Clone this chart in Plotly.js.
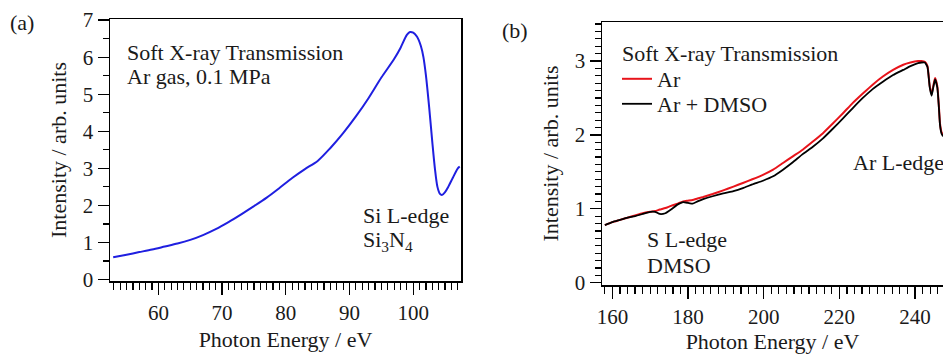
<!DOCTYPE html>
<html>
<head>
<meta charset="utf-8">
<script src="https://cdn.plot.ly/plotly-3.0.1.min.js"></script>
<style>html,body{margin:0;padding:0;background:#fff;}#chart{width:943px;height:355px;}</style>
</head>
<body>
<div id="chart"></div>
<script>
// Panel (a): Si3N4 window transmission, Ar gas 0.1 MPa
const energyA = [52.9, 55, 57, 59, 61, 63, 65, 67, 69, 71, 73, 75, 77, 79, 81, 83, 85, 87, 89, 91, 93, 95, 97, 98, 99, 99.5, 100, 100.6, 101.2, 101.6, 102.0, 102.5, 103.0, 103.4, 103.8, 104.2, 104.5, 105.0, 105.5, 106.2, 107.0, 107.3];
const intensityA = [0.60, 0.67, 0.74, 0.81, 0.89, 0.97, 1.07, 1.20, 1.36, 1.55, 1.76, 1.98, 2.21, 2.47, 2.74, 2.98, 3.20, 3.55, 3.95, 4.40, 4.90, 5.45, 5.95, 6.25, 6.60, 6.68, 6.66, 6.55, 6.30, 6.00, 5.50, 4.65, 3.70, 3.00, 2.50, 2.31, 2.28, 2.36, 2.50, 2.74, 3.00, 3.05];

// Panel (b): Ar vs Ar + DMSO
const energyB = [158.0, 160.0, 162.0, 164.0, 166.0, 168.0, 170.0, 171.3, 172.5, 174.0, 175.5, 177.3, 178.7, 180.0, 181.2, 182.5, 184.0, 186.5, 189.3, 192.0, 194.5, 197.0, 199.8, 202.5, 205.1, 207.7, 210.3, 213.0, 215.6, 218.2, 220.9, 223.5, 226.2, 228.8, 231.5, 234.2, 236.9, 238.8, 240.8, 241.7, 242.6, 243.3, 243.9, 244.4, 244.9, 245.3, 245.9, 246.3, 246.6, 247.0, 247.4];
const intensityAr = [0.78, 0.82, 0.85, 0.88, 0.91, 0.94, 0.96, 0.97, 0.99, 1.01, 1.04, 1.07, 1.10, 1.11, 1.12, 1.14, 1.16, 1.20, 1.25, 1.30, 1.35, 1.40, 1.46, 1.53, 1.62, 1.71, 1.80, 1.91, 2.02, 2.15, 2.29, 2.43, 2.56, 2.68, 2.79, 2.88, 2.95, 2.98, 3.00, 3.00, 2.99, 2.93, 2.66, 2.55, 2.68, 2.77, 2.66, 2.40, 2.16, 2.04, 2.00];
const intensityArDMSO = [0.78, 0.82, 0.85, 0.88, 0.90, 0.93, 0.96, 0.96, 0.93, 0.94, 0.99, 1.06, 1.09, 1.08, 1.07, 1.10, 1.13, 1.17, 1.21, 1.24, 1.28, 1.33, 1.38, 1.44, 1.53, 1.63, 1.74, 1.84, 1.95, 2.08, 2.22, 2.36, 2.50, 2.62, 2.72, 2.81, 2.88, 2.93, 2.97, 2.98, 2.98, 2.92, 2.64, 2.53, 2.66, 2.75, 2.64, 2.38, 2.14, 2.02, 1.98];

const xTicksA = [60, 70, 80, 90, 100];
const yTicksA = [0, 1, 2, 3, 4, 5, 6, 7];
const xTicksB = [160, 180, 200, 220, 240];
const yTicksB = [0, 1, 2, 3];

const W = 943, H = 355;
const px = v => v / W;
const py = v => 1 - v / H;

const serif = "Liberation Serif";
const txt = '#1a1a1a';

const traces = [
  {x: energyA, y: intensityA, xaxis: 'x', yaxis: 'y', mode: 'lines', type: 'scatter',
   line: {color: '#1f1fe0', width: 2, shape: 'spline', smoothing: 0.8}, showlegend: false, name: 'Ar gas'},
  {x: energyB, y: intensityAr, xaxis: 'x2', yaxis: 'y2', mode: 'lines', type: 'scatter',
   line: {color: '#e8141b', width: 2, shape: 'spline', smoothing: 0.4}, name: 'Ar', legend: 'legend'},
  {x: energyB, y: intensityArDMSO, xaxis: 'x2', yaxis: 'y2', mode: 'lines', type: 'scatter',
   line: {color: '#000000', width: 1.8, shape: 'spline', smoothing: 0.4}, name: 'Ar + DMSO', legend: 'legend2'}
];

const axBase = {
  showgrid: false, zeroline: false, showline: true, linecolor: '#000', linewidth: 1.5,
  ticks: 'outside', tickcolor: '#000', tickwidth: 1.3,
  tickfont: {family: serif, size: 21, color: txt},
  fixedrange: true
};

const legBase = {
  xanchor: 'left', yanchor: 'middle',
  bgcolor: 'rgba(0,0,0,0)', borderwidth: 0,
  font: {family: serif, size: 22, color: txt},
  itemwidth: 30
};

const layout = {
  width: W, height: H,
  margin: {l: 0, r: 0, t: 0, b: 0},
  paper_bgcolor: '#fff', plot_bgcolor: '#fff',
  font: {family: serif, color: txt},
  xaxis: Object.assign({}, axBase, {
    domain: [px(110), px(461)], range: [52.4, 107.5], anchor: 'y',
    tickvals: xTicksA, ticklen: 12, mirror: true,
    minor: {dtick: 1, tick0: 50, ticklen: 7, ticks: 'outside', tickcolor: '#000', tickwidth: 1.2},
    title: {text: 'Photon Energy / eV', font: {family: serif, size: 22, color: txt}, standoff: 8}
  }),
  yaxis: Object.assign({}, axBase, {
    domain: [py(281), py(19)], range: [-0.04, 7.03], anchor: 'x',
    tickvals: yTicksA, ticklen: 11, mirror: true,
    minor: {dtick: 0.5, tick0: 0, ticklen: 6, ticks: 'outside', tickcolor: '#000', tickwidth: 1.2},
    title: {text: 'Intensity / arb. units', font: {family: serif, size: 22, color: txt}, standoff: 10}
  }),
  xaxis2: Object.assign({}, axBase, {
    domain: [px(602), 1], range: [157.25, 247.4], anchor: 'y2',
    tickvals: xTicksB, ticklen: 12, mirror: true,
    minor: {dtick: 2, tick0: 150, ticklen: 7, ticks: 'outside', tickcolor: '#000', tickwidth: 1.2},
    title: {text: 'Photon Energy / eV', font: {family: serif, size: 22, color: txt}, standoff: 6}
  }),
  yaxis2: Object.assign({}, axBase, {
    domain: [py(285), py(22)], range: [-0.031, 3.528], anchor: 'x2',
    tickvals: yTicksB, ticklen: 11, mirror: false,
    minor: {dtick: 0.1, tick0: 0, ticklen: 6, ticks: 'outside', tickcolor: '#000', tickwidth: 1.2},
    title: {text: 'Intensity / arb. units', font: {family: serif, size: 22, color: txt}, standoff: 10}
  }),
  showlegend: true,
  legend: Object.assign({}, legBase, {x: px(617), y: py(79)}),
  legend2: Object.assign({}, legBase, {x: px(617), y: py(104)}),
  annotations: [
    {text: '(a)', x: px(8), y: py(22), xref: 'paper', yref: 'paper', xanchor: 'left', yanchor: 'middle', showarrow: false, font: {family: serif, size: 22, color: txt}},
    {text: '(b)', x: px(500), y: py(30), xref: 'paper', yref: 'paper', xanchor: 'left', yanchor: 'middle', showarrow: false, font: {family: serif, size: 22, color: txt}},
    {text: 'Soft X-ray Transmission', x: px(125), y: py(52), xref: 'paper', yref: 'paper', xanchor: 'left', yanchor: 'middle', showarrow: false, font: {family: serif, size: 22, color: txt}},
    {text: 'Ar gas, 0.1 MPa', x: px(125), y: py(77), xref: 'paper', yref: 'paper', xanchor: 'left', yanchor: 'middle', showarrow: false, font: {family: serif, size: 22, color: txt}},
    {text: 'Soft X-ray Transmission', x: px(620), y: py(53), xref: 'paper', yref: 'paper', xanchor: 'left', yanchor: 'middle', showarrow: false, font: {family: serif, size: 22, color: txt}},
    {text: 'Si L-edge', x: px(361), y: py(215), xref: 'paper', yref: 'paper', xanchor: 'left', yanchor: 'middle', showarrow: false, font: {family: serif, size: 22, color: txt}},
    {text: 'Si<sub>3</sub>N<sub>4</sub>', x: px(361), y: py(241), xref: 'paper', yref: 'paper', xanchor: 'left', yanchor: 'middle', showarrow: false, font: {family: serif, size: 22, color: txt}},
    {text: 'S L-edge', x: px(645), y: py(239), xref: 'paper', yref: 'paper', xanchor: 'left', yanchor: 'middle', showarrow: false, font: {family: serif, size: 22, color: txt}},
    {text: 'DMSO', x: px(645), y: py(265), xref: 'paper', yref: 'paper', xanchor: 'left', yanchor: 'middle', showarrow: false, font: {family: serif, size: 22, color: txt}},
    {text: 'Ar L-edge', x: px(851), y: py(162), xref: 'paper', yref: 'paper', xanchor: 'left', yanchor: 'middle', showarrow: false, font: {family: serif, size: 22, color: txt}}
  ]
};

Plotly.newPlot('chart', traces, layout, {displayModeBar: false, staticPlot: true});
</script>
</body>
</html>
